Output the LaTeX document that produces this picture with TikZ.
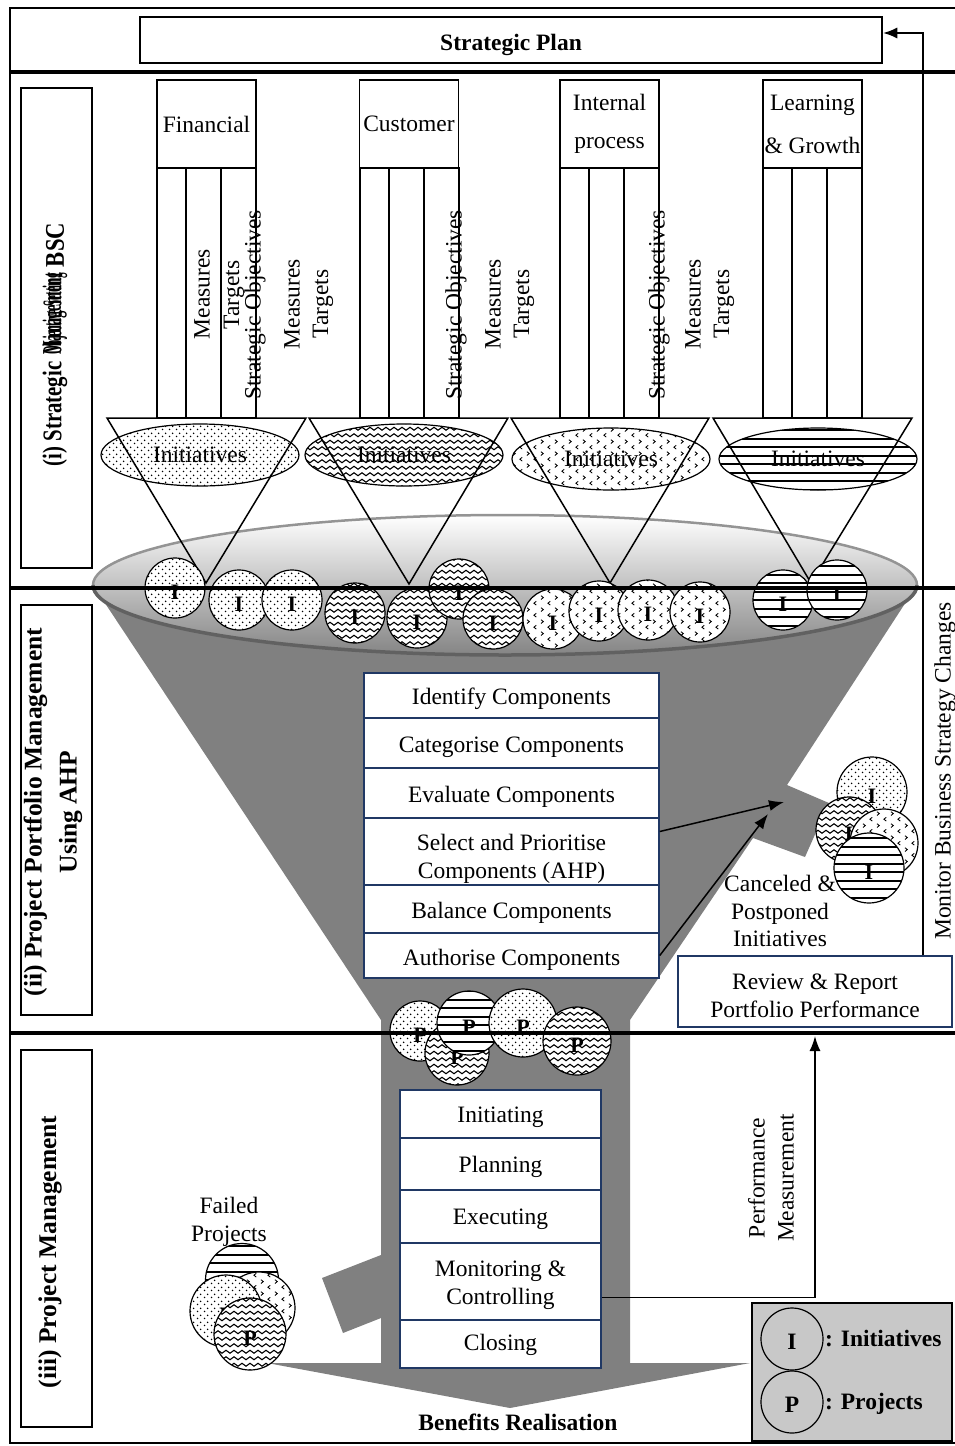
\documentclass[tikz,border=0pt]{standalone}
\usepackage{fontspec}
\setmainfont{Liberation Serif}
\usetikzlibrary{patterns,shapes.geometric,arrows.meta,calc}

% fill patterns for the four perspectives
\pgfdeclarepatternformonly{pdots}{\pgfqpoint{0pt}{0pt}}{\pgfqpoint{7pt}{7pt}}{\pgfqpoint{7pt}{7pt}}{%
  \pgfpathcircle{\pgfqpoint{1.75pt}{1.75pt}}{0.95pt}%
  \pgfpathcircle{\pgfqpoint{5.25pt}{5.25pt}}{0.95pt}%
  \pgfusepath{fill}}
\pgfdeclarepatternformonly{pwave}{\pgfqpoint{-1pt}{-1pt}}{\pgfqpoint{9pt}{7.5pt}}{\pgfqpoint{8pt}{6.5pt}}{%
  \pgfsetlinewidth{1.1pt}%
  \pgfpathmoveto{\pgfqpoint{0pt}{3.25pt}}%
  \pgfpathcurveto{\pgfqpoint{1.3pt}{5.2pt}}{\pgfqpoint{2.7pt}{5.2pt}}{\pgfqpoint{4pt}{3.25pt}}%
  \pgfpathcurveto{\pgfqpoint{5.3pt}{1.3pt}}{\pgfqpoint{6.7pt}{1.3pt}}{\pgfqpoint{8pt}{3.25pt}}%
  \pgfusepath{stroke}}
\pgfdeclarepatternformonly{pchev}{\pgfqpoint{0pt}{0pt}}{\pgfqpoint{14pt}{12pt}}{\pgfqpoint{14pt}{12pt}}{%
  \pgfsetlinewidth{0.9pt}%
  \pgfpathmoveto{\pgfqpoint{4.5pt}{1pt}}\pgfpathlineto{\pgfqpoint{2pt}{3pt}}\pgfpathlineto{\pgfqpoint{4.5pt}{5pt}}%
  \pgfpathmoveto{\pgfqpoint{9.5pt}{7pt}}\pgfpathlineto{\pgfqpoint{12pt}{9pt}}\pgfpathlineto{\pgfqpoint{9.5pt}{11pt}}%
  \pgfusepath{stroke}}
\pgfdeclarepatternformonly{phl}{\pgfqpoint{-1pt}{0pt}}{\pgfqpoint{11pt}{8.5pt}}{\pgfqpoint{10pt}{8.5pt}}{%
  \pgfsetlinewidth{2pt}%
  \pgfpathmoveto{\pgfqpoint{-1pt}{4.25pt}}\pgfpathlineto{\pgfqpoint{11pt}{4.25pt}}%
  \pgfusepath{stroke}}

\definecolor{navy}{RGB}{32,56,100}
\definecolor{funnelgray}{RGB}{128,128,128}
\definecolor{legendgray}{RGB}{200,200,200}

\tikzset{
  body/.style={font=\fontsize{23.5}{28}\selectfont},
  persp/.style={draw, line width=1.5pt, minimum width=99pt, minimum height=88pt, inner sep=0pt, align=center, body},
  colline/.style={line width=1.5pt},
  vlabel/.style={rotate=90, inner sep=0pt, body},
  initell/.style={ellipse, draw, line width=1.2pt, preaction={fill=white}, pattern=#1, inner sep=0pt,
    minimum width=198pt, minimum height=62pt, body},
  chip/.style={circle, draw, line width=1.2pt, minimum size=60pt, inner sep=0pt, preaction={fill=white},
    pattern=#1, text height=23pt, text depth=0pt, font=\bfseries\fontsize{22}{22}\selectfont},
  funnelline/.style={line width=1.5pt},
  procbox/.style={draw=navy, line width=1.5pt, fill=white, inner sep=0pt},
  boxtext/.style 2 args={label={[body, align=center, inner sep=0pt, yshift=#2]center:{#1}}},
  divider/.style={line width=4.5pt},
  secbox/.style={draw, line width=2.5pt},
  seclabel/.style={rotate=90, align=center, inner sep=0pt, font=\bfseries\fontsize{25.5}{35}\selectfont},
  squeezed/.style={rotate=90, inner sep=0pt, font=\bfseries\fontsize{27}{30}\selectfont},
  flow/.style={line width=1.5pt, -{Latex[length=15pt,width=11pt]}},
}

\begin{document}
\begin{tikzpicture}[x=1pt,y=-1pt]
\useasboundingbox (0,0) rectangle (955,1446);

% outer frame
\draw[line width=2pt] (958,8) -- (10,8) -- (10,1443) -- (958,1443);

% ---------- funnel body with side outlets and benefits arrow ----------
\fill[funnelgray] (93,585) -- (381,1020) -- (381,1255) -- (322,1278) -- (343,1333) -- (381,1318)
  -- (381,1363) -- (267,1363) -- (510,1408) -- (750,1363) -- (630,1363) -- (630,1020)
  -- (753,838) -- (805,857) -- (829,803) -- (787,785) -- (917,585) -- cycle;
% funnel mouth
\path[top color=white, middle color=black!14, bottom color=black!48, draw=black!42, line width=2.5pt]
  (505,585) ellipse [x radius=412pt, y radius=70pt];
\draw[black!62, line width=3.5pt] (93,585) arc[start angle=180, end angle=360, x radius=412pt, y radius=70pt];

% ---------- strategic plan ----------
\node[draw, line width=2.5pt, minimum width=742pt, minimum height=46pt, inner sep=0pt,
  boxtext={\bfseries Strategic Plan}{-5pt}] (plan) at (511,40) {};

% ---------- BSC perspectives ----------
\node[persp] (fin) at (206.5,124) {Financial};
\node[persp] (cus) at (409,124) {Customer};
\node[persp] (ipr) at (609.5,124) {Internal\\[10pt]process};
\node[persp] (lrn) at (812.5,124) {Learning\\[15pt]\& Growth};

\foreach \a in {157,360,560,763}{
  \draw[colline] (\a,168) rectangle ({\a+99},418);
  \draw[colline] ({\a+29},168) -- ({\a+29},418);
  \draw[colline] ({\a+64},168) -- ({\a+64},418);
}

\node[vlabel] (fm1) at (202,294) {Measures};
\node[vlabel] (ft1) at (234,295) {Targets};
\node[vlabel] (fso) at (255,305) {Strategic Objectives};
\node[vlabel] (fm2) at (292,304) {Measures};
\node[vlabel] (ft2) at (323,304) {Targets};
\node[vlabel] (cso) at (456,305) {Strategic Objectives};
\node[vlabel] (cm) at (493,304) {Measures};
\node[vlabel] (ct) at (524,304) {Targets};
\node[vlabel] (iso) at (659,305) {Strategic Objectives};
\node[vlabel] (im) at (693,304) {Measures};
\node[vlabel] (it) at (724,304) {Targets};

% initiatives of each perspective
\node[initell=pdots] (e1) at (200,455) {Initiatives};
\node[initell=pwave] (e2) at (404,455) {Initiatives};
\node[initell=pchev] (e3) at (611,459) {Initiatives};
\node[initell=phl]   (e4) at (818,459) {Initiatives};

% narrowing triangles
\draw[funnelline] (107,418) -- (206,583) -- (306,418) -- cycle;
\draw[funnelline] (309,418) -- (409,584) -- (508,418) -- cycle;
\draw[funnelline] (511,418) -- (610,583) -- (709,418) -- cycle;
\draw[funnelline] (713,418) -- (811,583) -- (912,418) -- cycle;

% initiatives entering the portfolio
\node[chip=pdots] (i1) at (175,588) {I};
\node[chip=pdots] (i2) at (239,600) {I};
\node[chip=pdots] (i3) at (292,600) {I};
\node[chip=pwave] (i4) at (355,613) {I};
\node[chip=pwave] (i5) at (417,618) {I};
\node[chip=pwave] (i6) at (459,589) {I};
\node[chip=pwave] (i7) at (493,619) {I};
\node[chip=pchev] (i8) at (553,619) {I};
\node[chip=pchev] (i9) at (599,611) {I};
\node[chip=pchev] (i10) at (648,610) {I};
\node[chip=pchev] (i11) at (700,612) {I};
\node[chip=phl] (i12) at (783,600) {I};
\node[chip=phl] (i13) at (837,590) {I};

% ---------- portfolio management steps ----------
\node[procbox, minimum width=295pt, minimum height=45pt, boxtext={Identify Components}{-3pt}] (idc) at (511.5,695.5) {};
\node[procbox, minimum width=295pt, minimum height=50pt, boxtext={Categorise Components}{-4pt}] (cat) at (511.5,743) {};
\node[procbox, minimum width=295pt, minimum height=50pt, boxtext={Evaluate Components}{-4pt}] (eva) at (511.5,793) {};
\node[procbox, minimum width=295pt, minimum height=67pt, boxtext={Select and Prioritise\\Components (AHP)}{-7pt}] (sel) at (511.5,851.5) {};
\node[procbox, minimum width=295pt, minimum height=48pt, boxtext={Balance Components}{-4pt}] (bal) at (511.5,909) {};
\node[procbox, minimum width=295pt, minimum height=45pt, boxtext={Authorise Components}{-4pt}] (aut) at (511.5,955.5) {};

% cancelled and postponed initiatives
\node[chip=pdots, minimum size=70pt] (c1) at (872,792) {I};
\node[chip=pwave, minimum size=66pt] (c2) at (849,830) {I};
\node[chip=pchev, minimum size=68pt] (c3) at (884,843) {I};
\node[chip=phl, minimum size=70pt] (c4) at (869,868) {I};
\node[body, align=center, inner sep=0pt, font=\fontsize{23.5}{27.5}\selectfont] (cpt) at (780,911) {Canceled \&\\Postponed\\Initiatives};

\coordinate (tipA) at (784,802);
\coordinate (tipB) at (768,814);
\draw[flow] ($(sel.east)+(0,-20)$) -- (tipA);
\draw[flow] (aut.east) -- (tipB);

% review box and strategy feedback loop
\node[procbox, minimum width=274pt, minimum height=71pt, boxtext={Review \& Report\\Portfolio Performance}{-4pt}] (rev) at (815,991.5) {};
\coordinate (loopx) at (923,0);
\draw[line width=1.3pt, -{Latex[length=14pt,width=11pt]}] (rev.north -| loopx) |- ($(plan.east)+(0,-7)$);
\node[vlabel] (mon) at (945,771) {Monitor Business Strategy Changes};

% ---------- projects leaving the portfolio ----------
\node[chip=pdots] (p1) at (420,1031) {P};
\node[chip=pwave, minimum size=64pt] (p2) at (457,1053) {P};
\node[chip=phl, minimum size=64pt] (p3) at (469,1023) {P};
\node[chip=pdots, minimum size=68pt] (p4) at (523,1023) {P};
\node[chip=pwave, minimum size=68pt] (p5) at (577,1041) {P};

% ---------- project management steps ----------
\node[procbox, minimum width=201pt, minimum height=48pt, boxtext={Initiating}{-3pt}] (ini) at (500.5,1114) {};
\node[procbox, minimum width=201pt, minimum height=52pt, boxtext={Planning}{-3pt}] (pla) at (500.5,1164) {};
\node[procbox, minimum width=201pt, minimum height=53pt, boxtext={Executing}{-3pt}] (exe) at (500.5,1216.5) {};
\node[procbox, minimum width=201pt, minimum height=77pt, boxtext={Monitoring \&\\Controlling}{-4pt}] (moc) at (500.5,1281.5) {};
\node[procbox, minimum width=201pt, minimum height=48pt, boxtext={Closing}{-1pt}] (clo) at (500.5,1344) {};

\coordinate (pmtop) at (815,1036);
\draw[flow] ($(moc.east)+(0,16)$) -| (pmtop);
\node[vlabel, align=center, font=\fontsize{23.5}{29}\selectfont] (pmt) at (771,1178) {Performance\\Measurement};

% failed projects
\node[body, align=center, inner sep=0pt] (fpt) at (229,1222) {Failed\\Projects};
\node[chip=phl, minimum size=73pt] (f1) at (242,1280) {P};
\node[chip=pchev, minimum size=72pt] (f2) at (259,1308) {P};
\node[chip=pdots, minimum size=72pt] (f3) at (226,1311) {P};
\node[chip=pwave, minimum size=72pt] (f4) at (250,1334) {P};

\node[body, inner sep=0pt] (ben) at (518,1422) {\bfseries Benefits Realisation};

% legend
\node[draw, line width=1.5pt, fill=legendgray, minimum width=200pt, minimum height=138pt, inner sep=0pt] (leg) at (852,1372) {};
\node[circle, draw, line width=1.2pt, minimum size=62pt, inner sep=0pt, text height=21pt, text depth=0pt,
  font=\bfseries\fontsize{23.5}{28}\selectfont] (legI) at (792,1339) {I};
\node[circle, draw, line width=1.2pt, minimum size=62pt, inner sep=0pt, text height=21pt, text depth=0pt,
  font=\bfseries\fontsize{23.5}{28}\selectfont] (legP) at (792,1402) {P};
\node[anchor=west, inner sep=0pt, body] (legIt) at (825,1338) {\bfseries : Initiatives};
\node[anchor=west, inner sep=0pt, body] (legPt) at (825,1404) {\bfseries : Projects};

% ---------- section dividers and titles ----------
\draw[divider] (10,72) -- (958,72);
\draw[divider] (10,588) -- (958,588);
\draw[divider] (10,1033) -- (958,1033);

\draw[secbox] (21,88) rectangle (92,568);
\draw[secbox] (21,605) rectangle (92,1015);
\draw[secbox] (21,1050) rectangle (92,1427);

% first title: words set over one another in a condensed run
\node[squeezed] (s1a) at (55,414) {\scalebox{0.77}[1]{(i) Strategic}};
\node[squeezed] (s1b) at (55,314) {\scalebox{0.54}[1]{Management}};
\node[squeezed] (s1c) at (55,314) {\scalebox{0.41}[1]{Objective Setting}};
\node[squeezed] (s1d) at (55,245) {\scalebox{0.84}[1]{BSC}};
\node[seclabel] (s2) at (53,812) {(ii) Project Portfolio Management\\Using AHP};
\node[seclabel] (s3) at (50,1252) {(iii) Project Management};

\end{tikzpicture}
\end{document}
